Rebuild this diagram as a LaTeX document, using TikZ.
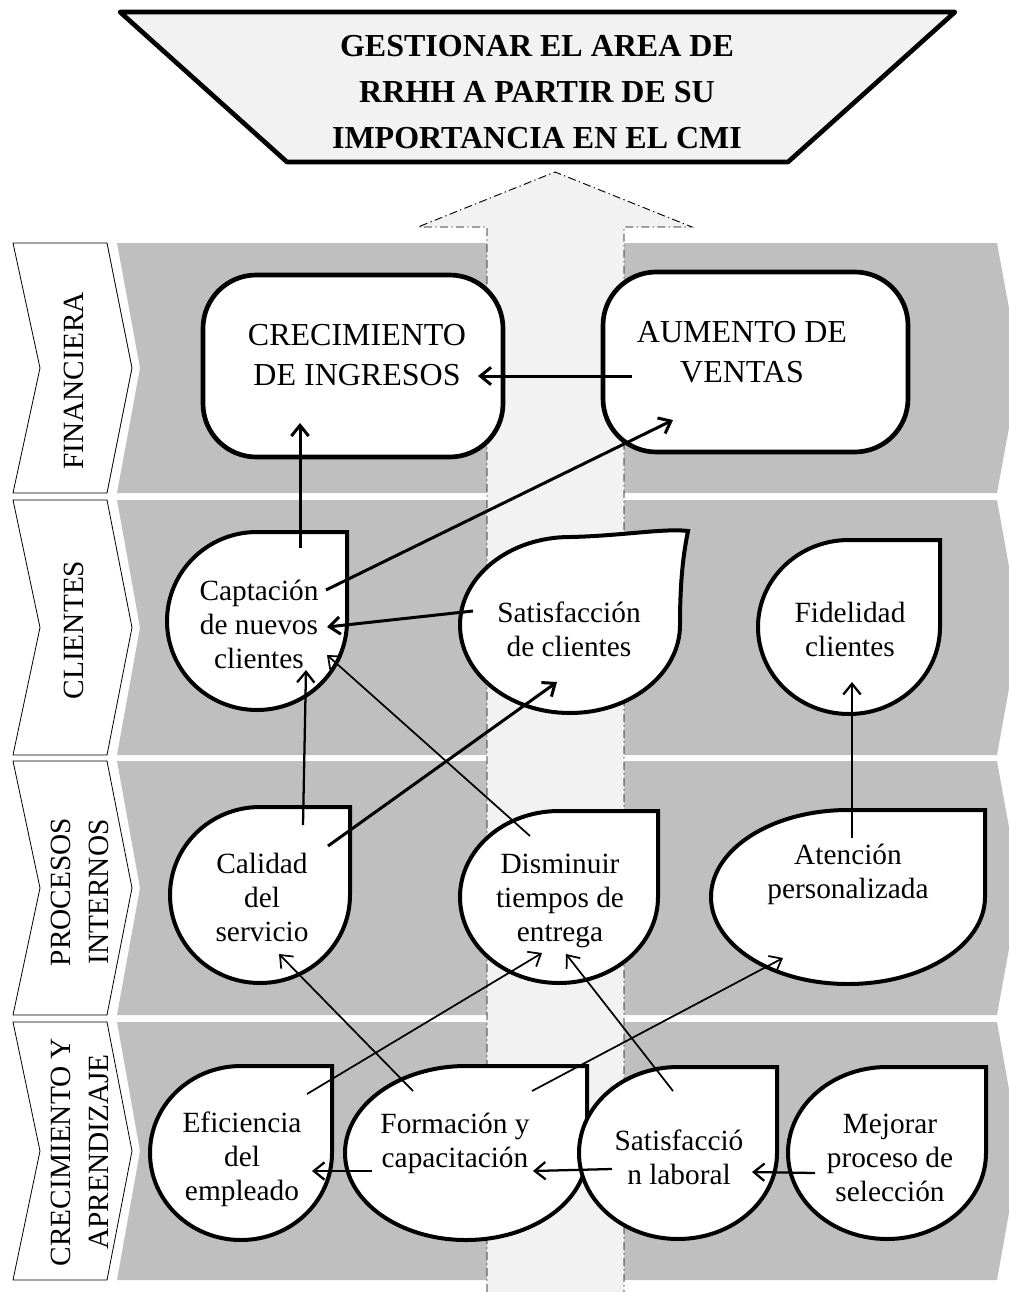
\documentclass[tikz,border=0pt]{standalone}
\usepackage{fontspec}
\setmainfont{Liberation Serif}
\usetikzlibrary{arrows.meta}
\definecolor{clrband}{HTML}{BFBFBF}
\definecolor{clrarrow}{HTML}{F2F2F2}
\definecolor{clrborder}{HTML}{000000}
\definecolor{clrtext}{HTML}{000000}

\begin{document}
\begin{tikzpicture}[
    x=0.75pt, y=0.75pt,
    >={Straight Barb[length=8pt,width=13pt]},
    every node/.style={font=\fontsize{22}{25.5}\selectfont, text=clrtext},
    band/.style={fill=clrband, draw=none},
    tab/.style={fill=white, draw=clrborder, line width=0.6pt},
    tablabel/.style={rotate=90, align=center, font=\fontsize{22}{28.5}\selectfont},
    banner/.style={fill=clrarrow, draw=clrborder, line width=3.5pt, line join=round},
    bigarrow/.style={fill=clrarrow, draw=clrborder, line width=0.7pt,
                     dash pattern=on 6pt off 2.5pt on 1pt off 2.5pt},
    box/.style={draw=clrborder, fill=white, line width=3.5pt, rounded corners=40pt, inner sep=0pt},
    drop/.style={draw=clrborder, fill=white, line width=3pt},
    boxtext/.style={align=center, font=\fontsize{24}{30}\selectfont},
    droptext/.style={align=center},
    arrow/.style={->, color=clrborder, line width=2.25pt},
    arrowmid/.style={->, color=clrborder, line width=1.7pt},
    arrowthin/.style={->, color=clrborder, line width=1.3pt},
]
\useasboundingbox (0,0) rectangle (1008,-1292);
% perspective bands
\draw[band] (117,-243) -- (997,-243) -- (1020,-368) -- (997,-493) -- (117,-493) -- (140,-368) -- cycle;
\draw[band] (117,-500) -- (997,-500) -- (1020,-627.5) -- (997,-755) -- (117,-755) -- (140,-627.5) -- cycle;
\draw[band] (117,-761) -- (997,-761) -- (1020,-888) -- (997,-1015) -- (117,-1015) -- (140,-888) -- cycle;
\draw[band] (117,-1022) -- (997,-1022) -- (1020,-1151) -- (997,-1280) -- (117,-1280) -- (140,-1151) -- cycle;
% perspective tabs
\draw[tab] (13,-243) -- (107,-243) -- (132,-368) -- (107,-493) -- (13,-493) -- (40,-368) -- cycle;
\draw[tab] (13,-500) -- (107,-500) -- (132,-627.5) -- (107,-755) -- (13,-755) -- (40,-627.5) -- cycle;
\draw[tab] (13,-761) -- (107,-761) -- (132,-888) -- (107,-1015) -- (13,-1015) -- (40,-888) -- cycle;
\draw[tab] (13,-1022) -- (107,-1022) -- (132,-1151) -- (107,-1280) -- (13,-1280) -- (40,-1151) -- cycle;
\node[tablabel] (t_1) at (74,-381) {FINANCIERA};
\node[tablabel] (t_2) at (74,-630) {CLIENTES};
\node[tablabel] (t_3) at (80,-892) {PROCESOS\\INTERNOS};
\node[tablabel] (t_4) at (80,-1152) {CRECIMIENTO Y\\APRENDIZAJE};
% goal banner
\draw[banner] (120,-12) -- (955,-12) -- (788,-162) -- (287,-162) -- cycle;
\node[font=\bfseries\fontsize{24}{34.5}\selectfont, align=center] (n_0) at (537,-92)
    {GESTIONAR EL AREA DE\\RRHH A PARTIR DE SU\\IMPORTANCIA EN EL CMI};
% upward arrow
\draw[bigarrow] (487,-1292) -- (487,-227) -- (418,-227) -- (555,-172) -- (692,-227) -- (624,-227) -- (624,-1292);
% financiera
\node[box, minimum width=225pt, minimum height=136.5pt] (n_1) at (353,-366) {};
\node[boxtext] (n_1_txt) at (357,-355) {CRECIMIENTO\\DE INGRESOS};
\node[box, minimum width=228.75pt, minimum height=135pt] (n_2) at (755.5,-362) {};
\node[boxtext] (n_2_txt) at (742,-352) {AUMENTO DE\\VENTAS};
% clientes
\draw[drop] (257,-532) -- (347,-532) -- (347,-621) arc[start angle=0, end angle=-270, x radius=90, y radius=89] -- cycle;
\node[droptext] (n_3) at (259,-624) {Captación\\de nuevos\\clientes};
\draw[drop] (460,-625) arc[start angle=180, end angle=90, x radius=110, y radius=88]
    .. controls (620,-536) and (665,-528) .. (688,-531)
    .. controls (682,-560) and (680,-590) .. (680,-625)
    arc[start angle=0, end angle=-180, x radius=110, y radius=88] -- cycle;
\node[droptext] (n_4) at (569,-629) {Satisfacción\\de clientes};
\draw[drop] (849,-540) -- (940,-540) -- (940,-627) arc[start angle=0, end angle=-270, x radius=91, y radius=87] -- cycle;
\node[droptext] (n_5) at (850,-629) {Fidelidad\\clientes};
% procesos internos
\draw[drop] (260,-807) -- (350,-807) -- (350,-895) arc[start angle=0, end angle=-270, x radius=90, y radius=88] -- cycle;
\node[droptext] (n_6) at (262,-897) {Calidad\\del\\servicio};
\draw[drop] (559,-811) -- (658,-811) -- (658,-897) arc[start angle=0, end angle=-270, x radius=99, y radius=86] -- cycle;
\node[droptext] (n_7) at (560,-901) {Disminuir\\tiempos de\\entrega};
\draw[drop] (848,-810) -- (985,-810) -- (985,-897) arc[start angle=0, end angle=-270, x radius=137, y radius=87] -- cycle;
\node[droptext] (n_8) at (848,-874) {Atención\\personalizada};
% crecimiento y aprendizaje
\draw[drop] (241,-1066) -- (332,-1066) -- (332,-1153) arc[start angle=0, end angle=-270, x radius=91, y radius=87] -- cycle;
\node[droptext] (n_9) at (242,-1159) {Eficiencia\\del\\empleado};
\draw[drop] (466,-1066) -- (587,-1066) -- (587,-1153) arc[start angle=0, end angle=-270, x radius=121, y radius=87] -- cycle;
\node[droptext] (n_10) at (455,-1143) {Formación y\\capacitación};
\draw[drop] (678,-1067) -- (777,-1067) -- (777,-1153) arc[start angle=0, end angle=-270, x radius=99, y radius=86] -- cycle;
\node[droptext] (n_11) at (679,-1157) {Satisfacció\\n laboral};
\draw[drop] (887,-1067) -- (986,-1067) -- (986,-1153) arc[start angle=0, end angle=-270, x radius=99, y radius=86] -- cycle;
\node[droptext] (n_12) at (890,-1158) {Mejorar\\proceso de\\selección};
% cause-effect links
\draw[arrow] ([shift={(-123.5,-14)}]n_2.center) -- ([shift={(125,-10)}]n_1.center);
\draw[arrow] ([shift={(41,76)}]n_3.center) -- ([shift={(-53,-57)}]n_1.center);
\draw[arrow] ([shift={(67,34)}]n_3.center) -- ([shift={(-82.5,-58)}]n_2.center);
\draw[arrow] ([shift={(-96,18)}]n_4.center) -- ([shift={(68,-3)}]n_3.center);
\draw[arrowmid] ([shift={(41,72)}]n_6.center) -- ([shift={(47,-46)}]n_3.center);
\draw[arrow] ([shift={(66,51)}]n_6.center) -- ([shift={(-12,-53)}]n_4.center);
\draw[arrowthin] ([shift={(-30,65)}]n_7.center) -- ([shift={(68,-31)}]n_3.center);
\draw[arrowmid] ([shift={(4,36)}]n_8.center) -- ([shift={(2,-53)}]n_5.center);
\draw[arrowthin] ([shift={(65,65)}]n_9.center) -- ([shift={(-18,-52)}]n_7.center);
\draw[arrowthin] ([shift={(-42,52)}]n_10.center) -- ([shift={(17,-57)}]n_6.center);
\draw[arrowthin] ([shift={(77,52)}]n_10.center) -- ([shift={(-65,-84)}]n_8.center);
\draw[arrowthin] ([shift={(-6,66)}]n_11.center) -- ([shift={(6,-53)}]n_7.center);
\draw[arrowmid] ([shift={(-83,-28)}]n_10.center) -- ([shift={(70,-12)}]n_9.center);
\draw[arrowmid] ([shift={(-67,-12)}]n_11.center) -- ([shift={(78,-28)}]n_10.center);
\draw[arrowmid] ([shift={(-75,-15)}]n_12.center) -- ([shift={(73,-15)}]n_11.center);
\end{tikzpicture}
\end{document}
